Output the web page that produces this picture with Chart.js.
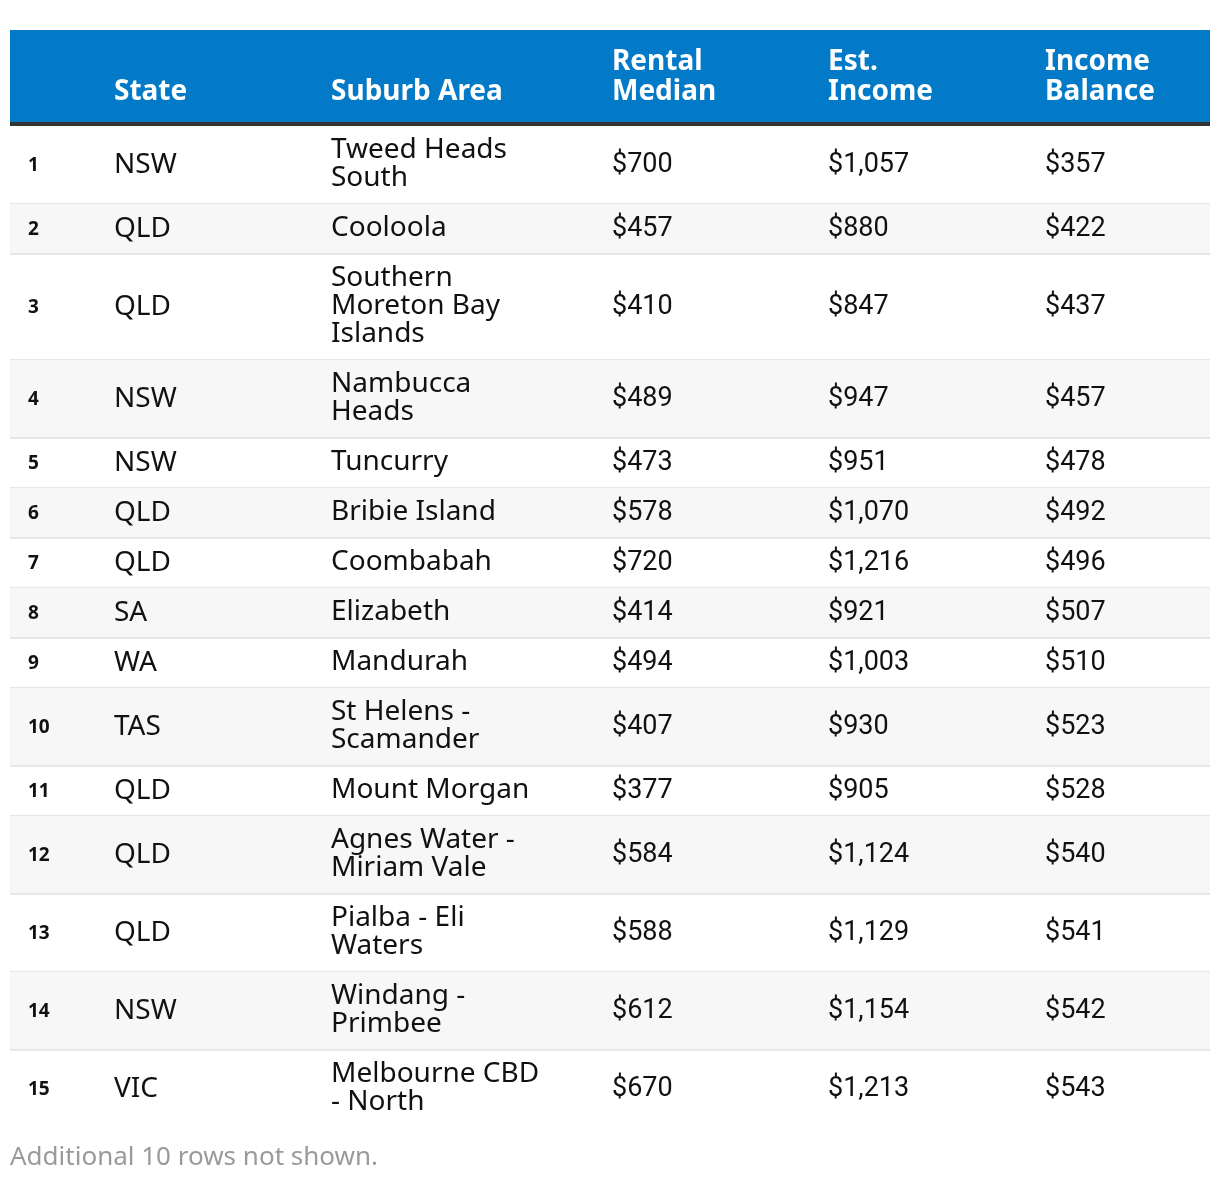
<!DOCTYPE html>
<html>
<head>
<meta charset="utf-8">
<script src="https://cdn.jsdelivr.net/npm/chart.js@4"></script>
<style>
  html, body { margin: 0; padding: 0; background: #fff; }
  #wrap { width: 1220px; height: 1182px; position: relative; }
</style>
</head>
<body>
<div id="wrap"><canvas id="tableChart"></canvas></div>
<script>
// Table data
const columnHeaders = ['', 'State', 'Suburb Area', 'Rental\nMedian', 'Est.\nIncome', 'Income\nBalance'];
const ranks = [1, 2, 3, 4, 5, 6, 7, 8, 9, 10, 11, 12, 13, 14, 15];
const states = ['NSW', 'QLD', 'QLD', 'NSW', 'NSW', 'QLD', 'QLD', 'SA', 'WA', 'TAS', 'QLD', 'QLD', 'QLD', 'NSW', 'VIC'];
const suburbs = [
  'Tweed Heads\nSouth', 'Cooloola', 'Southern\nMoreton Bay\nIslands', 'Nambucca\nHeads', 'Tuncurry',
  'Bribie Island', 'Coombabah', 'Elizabeth', 'Mandurah', 'St Helens -\nScamander',
  'Mount Morgan', 'Agnes Water -\nMiriam Vale', 'Pialba - Eli\nWaters', 'Windang -\nPrimbee', 'Melbourne CBD\n- North'
];
const rentalMedian = [700, 457, 410, 489, 473, 578, 720, 414, 494, 407, 377, 584, 588, 612, 670];
const estIncome = [1057, 880, 847, 947, 951, 1070, 1216, 921, 1003, 930, 905, 1124, 1129, 1154, 1213];
const incomeBalance = [357, 422, 437, 457, 478, 492, 496, 507, 510, 523, 528, 540, 541, 542, 543];
const footnote = 'Additional 10 rows not shown.';

// layout in scale units (1 unit = 1px)
const HEADER_H = 92;
const RULE_H = 4;
const LINE_H = 28;
const ROW_PAD = 22;
const colStarts = [0, 86, 303, 584, 800, 1017];
const CELL_PAD = 18;

const money = v => '$' + v.toLocaleString('en-US');

const rowLines = suburbs.map(s => s.split('\n').length);
const rowHeights = rowLines.map(n => ROW_PAD + LINE_H * n);
const rowTops = [];
let acc = HEADER_H + RULE_H;
rowHeights.forEach(h => { rowTops.push(acc); acc += h; });
const tableBottom = acc;

const BODY_FONT = '28px "Noto Sans"';
const NUM_FONT = '27px Roboto';
const RANK_FONT = 'bold 19px "Noto Sans"';
const HEAD_FONT = 'bold 28px "Noto Sans"';

const tablePlugin = {
  id: 'tablePlugin',
  afterDraw(chart) {
    const { ctx, scales: { x, y } } = chart;
    const left = x.getPixelForValue(0);
    const right = x.getPixelForValue(1200);
    ctx.save();

    // header band
    const hTop = y.getPixelForValue(0);
    const hBot = y.getPixelForValue(HEADER_H);
    ctx.fillStyle = '#037ac7';
    ctx.fillRect(left, hTop, right - left, hBot - hTop);
    ctx.fillStyle = '#333333';
    ctx.fillRect(left, hBot, right - left, y.getPixelForValue(HEADER_H + RULE_H) - hBot);

    ctx.fillStyle = '#ffffff';
    ctx.font = HEAD_FONT;
    ctx.textBaseline = 'middle';
    ctx.textAlign = 'left';
    columnHeaders.forEach((h, c) => {
      const lines = h.split('\n');
      lines.forEach((ln, i) => {
        const yy = y.getPixelForValue(HEADER_H - 30 - (lines.length - 1 - i) * 30);
        ctx.fillText(ln, x.getPixelForValue(colStarts[c] + CELL_PAD), yy);
      });
    });

    // rows
    ranks.forEach((r, i) => {
      const top = y.getPixelForValue(rowTops[i]);
      const bot = y.getPixelForValue(rowTops[i] + rowHeights[i]);
      if (i % 2 === 1) {
        ctx.fillStyle = '#f7f7f7';
        ctx.fillRect(left, top, right - left, bot - top);
      }
      if (i < ranks.length - 1) {
        ctx.fillStyle = '#e6e6e6';
        ctx.fillRect(left, bot - 1, right - left, 2);
      }
      const mid = y.getPixelForValue(rowTops[i] + rowHeights[i] / 2);
      const cx = c => x.getPixelForValue(colStarts[c] + CELL_PAD);

      ctx.fillStyle = '#111111';
      ctx.font = RANK_FONT;
      ctx.fillText(String(r), cx(0), mid + 1);

      ctx.font = BODY_FONT;
      ctx.fillText(states[i], cx(1), mid);
      const lines = suburbs[i].split('\n');
      lines.forEach((ln, k) => {
        ctx.fillText(ln, cx(2), mid - 1 + (k - (lines.length - 1) / 2) * LINE_H);
      });

      ctx.font = NUM_FONT;
      ctx.fillText(money(rentalMedian[i]), cx(3), mid);
      ctx.fillText(money(estIncome[i]), cx(4), mid);
      ctx.fillText(money(incomeBalance[i]), cx(5), mid);
    });

    ctx.restore();
  }
};

new Chart(document.getElementById('tableChart'), {
  type: 'scatter',
  data: { datasets: [] },
  options: {
    responsive: true,
    maintainAspectRatio: false,
    animation: false,
    layout: { padding: { left: 10, right: 10, top: 30, bottom: 0 } },
    scales: {
      x: { type: 'linear', display: false, min: 0, max: 1200 },
      y: { type: 'linear', display: false, reverse: true, min: 0, max: tableBottom }
    },
    plugins: {
      legend: { display: false },
      tooltip: { enabled: false },
      title: {
        display: true,
        position: 'bottom',
        align: 'start',
        text: footnote,
        color: '#9a9a9a',
        font: { family: '"Noto Sans"', size: 26, weight: 'normal', lineHeight: 1.2 },
        padding: { top: 14, bottom: 9 }
      }
    }
  },
  plugins: [tablePlugin]
});
</script>
</body>
</html>
